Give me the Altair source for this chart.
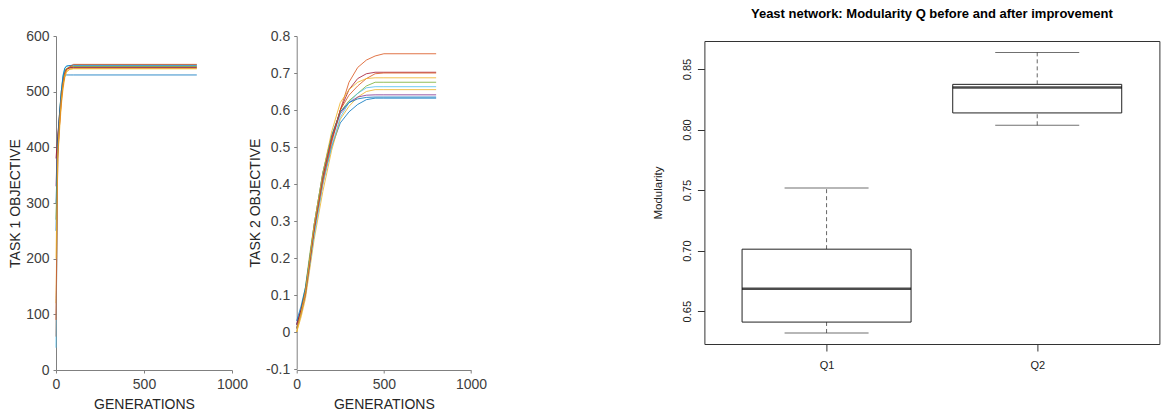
import altair as alt
import pandas as pd

FONT = "Liberation Sans"

# ---------------- data ----------------
run_names = ["run1", "run2", "run3", "run4", "run5", "run6", "run7", "run8", "run9", "run10"]
run_colors = ["#0072BD", "#D95319", "#EDB120", "#7E2F8E", "#77AC30",
              "#4DBEEE", "#A2142F", "#0072BD", "#D95319", "#EDB120"]

# Task 1 objective vs generations
task1_gens = [0, 10, 20, 30, 40, 50, 60, 80, 100, 800]
task1_run1 = [300, 400, 450, 490, 515, 528, 530, 530, 530, 530]
task1_run2 = [60, 390, 440, 480, 510, 530, 540, 545, 546, 546]
task1_run3 = [120, 380, 430, 475, 505, 525, 535, 541, 542, 542]
task1_run4 = [330, 420, 460, 495, 520, 535, 541, 543, 544, 544]
task1_run5 = [270, 410, 460, 500, 525, 538, 542, 544, 545, 545]
task1_run6 = [40, 400, 455, 500, 530, 543, 546, 547, 547, 547]
task1_run7 = [380, 420, 455, 490, 515, 532, 540, 543, 543, 543]
task1_run8 = [250, 410, 460, 500, 528, 542, 546, 547, 548, 548]
task1_run9 = [90, 380, 440, 485, 515, 532, 540, 545, 549, 549]
task1_run10 = [200, 390, 445, 485, 512, 530, 538, 540, 541, 541]
task1_values = [task1_run1, task1_run2, task1_run3, task1_run4, task1_run5,
                task1_run6, task1_run7, task1_run8, task1_run9, task1_run10]

# Task 2 objective vs generations
task2_gens = [0, 25, 50, 75, 100, 150, 200, 250, 300, 350, 400, 450, 500, 800]
task2_run1 = [0.02, 0.06, 0.11, 0.19, 0.27, 0.41, 0.50, 0.565, 0.595, 0.615, 0.628, 0.632, 0.632, 0.632]
task2_run2 = [0.01, 0.05, 0.10, 0.18, 0.27, 0.40, 0.51, 0.60, 0.675, 0.715, 0.735, 0.746, 0.752, 0.752]
task2_run3 = [0.00, 0.04, 0.09, 0.17, 0.25, 0.38, 0.49, 0.575, 0.61, 0.635, 0.65, 0.655, 0.655, 0.655]
task2_run4 = [0.02, 0.06, 0.11, 0.20, 0.28, 0.42, 0.52, 0.59, 0.62, 0.635, 0.64, 0.641, 0.641, 0.641]
task2_run5 = [0.01, 0.06, 0.12, 0.21, 0.29, 0.43, 0.53, 0.595, 0.625, 0.645, 0.665, 0.675, 0.675, 0.675]
task2_run6 = [0.01, 0.05, 0.10, 0.18, 0.26, 0.40, 0.50, 0.58, 0.62, 0.645, 0.66, 0.663, 0.663, 0.663]
task2_run7 = [0.02, 0.06, 0.11, 0.19, 0.28, 0.42, 0.52, 0.60, 0.655, 0.685, 0.698, 0.702, 0.702, 0.702]
task2_run8 = [0.03, 0.07, 0.12, 0.20, 0.29, 0.43, 0.53, 0.595, 0.62, 0.63, 0.634, 0.635, 0.635, 0.635]
task2_run9 = [0.01, 0.05, 0.10, 0.19, 0.28, 0.41, 0.52, 0.60, 0.64, 0.665, 0.685, 0.698, 0.700, 0.700]
task2_run10 = [0.00, 0.05, 0.11, 0.20, 0.29, 0.43, 0.54, 0.62, 0.655, 0.675, 0.685, 0.687, 0.687, 0.687]
task2_values = [task2_run1, task2_run2, task2_run3, task2_run4, task2_run5,
                task2_run6, task2_run7, task2_run8, task2_run9, task2_run10]

# Boxplot: modularity before / after improvement
box_groups = ["Q1", "Q2"]
box_lower = [0.632, 0.8035]
box_q1 = [0.641, 0.8137]
box_median = [0.6686, 0.8346]
box_q3 = [0.7012, 0.8373]
box_upper = [0.7517, 0.8637]

task1_ticks = [0, 100, 200, 300, 400, 500, 600]
task2_ticks = [-0.1, 0, 0.1, 0.2, 0.3, 0.4, 0.5, 0.6, 0.7, 0.8]
gen_ticks = [0, 500, 1000]
mod_ticks = [0.65, 0.70, 0.75, 0.80, 0.85]

# ---------------- tables ----------------
df1 = pd.DataFrame([{"run": r, "gen": g, "value": v}
                    for r, vals in zip(run_names, task1_values)
                    for g, v in zip(task1_gens, vals)])
df2 = pd.DataFrame([{"run": r, "gen": g, "value": v}
                    for r, vals in zip(run_names, task2_values)
                    for g, v in zip(task2_gens, vals)])
df3 = pd.DataFrame({"group": box_groups, "lower": box_lower, "q1": box_q1,
                    "median": box_median, "q3": box_q3, "upper": box_upper})

color_enc = alt.Color("run:N", scale=alt.Scale(domain=run_names, range=run_colors), legend=None)


def ml_axis(title, values, title_padding, fmt=None, label_expr=None):
    kw = dict(title=title, values=values, grid=False, domainColor="#808080",
              tickColor="#808080", tickSize=3, labelFont=FONT, labelFontSize=14,
              labelColor="#404040", titleFont=FONT, titleFontSize=14,
              titleFontWeight="normal", titleColor="#262626", labelPadding=4,
              titlePadding=title_padding, labelFlush=False, labelOverlap=False)
    if fmt:
        kw["format"] = fmt
    if label_expr:
        kw["labelExpr"] = label_expr
    return alt.Axis(**kw)


p1 = alt.Chart(df1).mark_line(strokeWidth=1, opacity=0.8).encode(
    x=alt.X("gen:Q", scale=alt.Scale(domain=[0, 1000], range=[0, 176], nice=False),
            axis=ml_axis("GENERATIONS", gen_ticks, 6, fmt="d")),
    y=alt.Y("value:Q", scale=alt.Scale(domain=[0, 600], range=[329, -5], nice=False),
            axis=ml_axis("TASK 1 OBJECTIVE", task1_ticks, 3, fmt="d")),
    color=color_enc,
).properties(width=176, height=329)

p2 = alt.Chart(df2).mark_line(strokeWidth=1, opacity=0.8).encode(
    x=alt.X("gen:Q", scale=alt.Scale(domain=[0, 1000], range=[0, 174.3], nice=False),
            axis=ml_axis("GENERATIONS", gen_ticks, 6, fmt="d")),
    y=alt.Y("value:Q", scale=alt.Scale(domain=[-0.1, 0.8], range=[328, -5], nice=False),
            axis=ml_axis("TASK 2 OBJECTIVE", task2_ticks, 3,
                         label_expr="datum.value < -0.0001 ? '-' + format(-datum.value, '.1~f') : format(datum.value, '.1~f')")),
    color=color_enc,
).properties(width=342.9, height=329)

y3_scale = alt.Scale(domain=[0.6229, 0.8731], nice=False, zero=False)
y3_axis = alt.Axis(values=mod_ticks, format=".2f", labelAngle=270, labelAlign="center",
                   labelBaseline="bottom", tickSize=7, tickColor="#333333", domain=False,
                   grid=False, labelFont=FONT, labelFontSize=11, labelColor="#222222",
                   labelPadding=5, titleFont=FONT, titleFontSize=11.5,
                   titleFontWeight="normal", titleColor="#222222", titlePadding=18,
                   labelOverlap=False)


def y3(field):
    return alt.Y(f"{field}:Q", scale=y3_scale, axis=y3_axis, title="Modularity")


base3 = alt.Chart(df3).encode(
    x=alt.X("group:N", scale=alt.Scale(type="point", domain=box_groups, padding=0.58),
            axis=alt.Axis(labelAngle=0, tickSize=7, tickColor="#333333", domain=False,
                          labelFont=FONT, labelFontSize=11, labelColor="#222222",
                          labelPadding=8, grid=False),
            title=None)
)
whisk_hi = base3.mark_rule(strokeDash=[4, 3], color="#666666", strokeWidth=1).encode(
    y=y3("q3"), y2="upper:Q")
whisk_lo = base3.mark_rule(strokeDash=[4, 3], color="#666666", strokeWidth=1).encode(
    y=y3("lower"), y2="q1:Q")
cap_hi = base3.mark_tick(size=84, thickness=1, color="#333333").encode(y=y3("upper"))
cap_lo = base3.mark_tick(size=84, thickness=1, color="#333333").encode(y=y3("lower"))
boxes = base3.mark_bar(size=169, fill="white", stroke="#222222", strokeWidth=1).encode(
    y=y3("q1"), y2="q3:Q")
medians = base3.mark_tick(size=169, thickness=2.5, color="#000000").encode(y=y3("median"))

p3 = alt.layer(whisk_hi, whisk_lo, cap_hi, cap_lo, boxes, medians).properties(
    width=455, height=303,
    view=alt.ViewBackground(stroke="#333333", strokeWidth=1),
    title=alt.TitleParams(text="Yeast network: Modularity Q before and after improvement",
                          font=FONT, fontSize=13, fontWeight="bold", color="#000000",
                          anchor="middle", offset=20),
)

chart = alt.hconcat(p1, p2, p3, spacing=64.7, bounds="flush").configure_view(
    stroke=None
).properties(
    padding={"left": 8, "top": 7, "right": 5, "bottom": 5},
    background="white",
)

chart.save("out.html", embed_options={"renderer": "svg", "actions": False})
